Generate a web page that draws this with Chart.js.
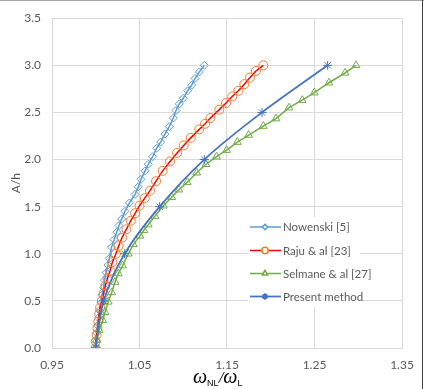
<!DOCTYPE html>
<html>
<head>
<meta charset="utf-8">
<script src="https://cdn.jsdelivr.net/npm/chart.js@4/dist/chart.umd.min.js"></script>
<style>
  html, body { margin: 0; padding: 0; background: #fff; }
  #wrap { width: 424px; height: 389px; position: relative; }
</style>
</head>
<body>
<div id="wrap"><canvas id="chart" width="424" height="389"></canvas></div>
<script>
// values
const xTicks = [0.95, 1.05, 1.15, 1.25, 1.35]

const nowenskiA = [0, 0.08, 0.16, 0.24, 0.32, 0.40, 0.48, 0.56, 0.64, 0.72, 0.80, 0.88, 0.95, 1.07, 1.15, 1.23, 1.30, 1.37, 1.45, 1.54, 1.63, 1.71, 1.79, 1.88, 1.95, 2.03, 2.12, 2.185, 2.27, 2.35, 2.44, 2.52, 2.59, 2.65, 2.73, 2.79, 2.86, 2.93, 3.00]
const nowenskiW = [1.000, 1.000, 1.001, 1.002, 1.003, 1.004, 1.006, 1.007, 1.009, 1.010, 1.012, 1.014, 1.0155, 1.018, 1.021, 1.024, 1.0266, 1.0297, 1.0334, 1.0385, 1.0449, 1.0486, 1.0517, 1.0563, 1.060, 1.065, 1.0696, 1.0742, 1.079, 1.084, 1.0887, 1.0917, 1.0955, 1.100, 1.105, 1.1097, 1.1134, 1.1184, 1.124]

const rajuA = [0, 0.07, 0.14, 0.21, 0.28, 0.36, 0.43, 0.50, 0.58, 0.66, 0.74, 0.82, 0.91, 1.00, 1.08, 1.17, 1.26, 1.35, 1.43, 1.51, 1.59, 1.67, 1.77, 1.88, 1.98, 2.07, 2.15, 2.23, 2.32, 2.38, 2.44, 2.53, 2.60, 2.67, 2.73, 2.80, 2.87, 2.94, 3.00]
const rajuW = [1.000, 1.000, 1.001, 1.002, 1.003, 1.004, 1.005, 1.007, 1.009, 1.011, 1.0135, 1.0163, 1.019, 1.023, 1.026, 1.030, 1.035, 1.040, 1.045, 1.050, 1.056, 1.062, 1.0689, 1.0765, 1.0849, 1.093, 1.1005, 1.1085, 1.1183, 1.125, 1.131, 1.1412, 1.1489, 1.156, 1.163, 1.1698, 1.1763, 1.1831, 1.1915]

const selmaneA = [0, 0.084, 0.19, 0.295, 0.38, 0.49, 0.59, 0.70, 0.79, 0.875, 1.00, 1.10, 1.19, 1.25, 1.31, 1.40, 1.51, 1.60, 1.68, 1.76, 1.86, 1.95, 2.03, 2.10, 2.185, 2.26, 2.355, 2.435, 2.55, 2.63, 2.71, 2.815, 2.92, 3.00]
const selmaneW = [1.000, 1.001, 1.004, 1.008, 1.0106, 1.0143, 1.0182, 1.022, 1.0258, 1.0307, 1.0372, 1.043, 1.0506, 1.055, 1.060, 1.0677, 1.0772, 1.0868, 1.0951, 1.1046, 1.1154, 1.126, 1.138, 1.1496, 1.1618, 1.1747, 1.1915, 1.206, 1.2209, 1.236, 1.2498, 1.2666, 1.2849, 1.2974]

const presentA = [0, 0.5, 1.0, 1.5, 2.0, 2.5, 3.0]
const presentW = [1.000, 1.009, 1.033, 1.073, 1.124, 1.190, 1.265]

const toPoints = (ws, as) => ws.map((w, i) => ({ x: w, y: as[i] }))

const textColor = '#595959'
const gridColor = '#D9D9D9'
const tickFont = { family: 'Lato', size: 12 }

// legend drawn inside the plot, Excel style
const insideLegend = {
  id: 'insideLegend',
  afterDatasetsDraw(chart) {
    const ctx = chart.ctx
    ctx.save()
    ctx.fillStyle = '#fff'
    ctx.fillRect(248, 217, 112, 90)
    const rows = [227, 250.5, 273.5, 296.5]
    chart.data.datasets.forEach((ds, i) => {
      const y = rows[i]
      ctx.strokeStyle = ds.borderColor
      ctx.lineWidth = ds.borderWidth
      ctx.beginPath()
      ctx.moveTo(250, y)
      ctx.lineTo(281, y)
      ctx.stroke()
      ctx.strokeStyle = ds.pointBorderColor
      ctx.fillStyle = '#fff'
      Chart.helpers.drawPoint(ctx, {
        pointStyle: ds.pointStyle,
        radius: ds.pointRadius * 0.7,
        borderWidth: ds.pointBorderWidth
      }, 265, y)
      ctx.fillStyle = textColor
      ctx.font = '11.5px Lato'
      ctx.textAlign = 'left'
      ctx.textBaseline = 'middle'
      ctx.fillText(ds.label, 283, y + 0.5)
    })
    ctx.restore()
  }
}

// x axis title with subscripts, plus the outer frame
const xTitle = {
  id: 'xTitle',
  afterDraw(chart) {
    const ctx = chart.ctx
    ctx.save()
    ctx.fillStyle = '#000'
    ctx.textBaseline = 'alphabetic'
    ctx.textAlign = 'left'
    let x = 193
    const base = 383
    const part = (txt, font, dy) => {
      ctx.font = font
      ctx.fillText(txt, x, base + dy)
      x += ctx.measureText(txt).width
    }
    part('\u03C9', 'italic 20px "Liberation Serif"', 0)
    part('NL', '9px "Liberation Sans"', 3)
    part('/', 'italic 17px "Liberation Serif"', 0)
    part('\u03C9', 'italic 20px "Liberation Serif"', 0)
    part('L', '9px "Liberation Sans"', 3)

    ctx.strokeStyle = '#A6A6A6'
    ctx.lineWidth = 1
    ctx.beginPath()
    ctx.moveTo(0, 0.5)
    ctx.lineTo(424, 0.5)
    ctx.stroke()
    ctx.strokeStyle = '#404040'
    ctx.beginPath()
    ctx.moveTo(422.5, 0)
    ctx.lineTo(422.5, 389)
    ctx.stroke()
    ctx.restore()
  }
}

const ctx = document.getElementById('chart').getContext('2d')
new Chart(ctx, {
  type: 'scatter',
  data: {
    datasets: [
      {
        label: 'Nowenski [5]',
        data: toPoints(nowenskiW, nowenskiA),
        showLine: true,
        borderColor: '#5B9BD5',
        borderWidth: 1.5,
        pointStyle: 'rectRot',
        pointRadius: 4,
        pointBorderWidth: 1,
        pointBorderColor: '#5B9BD5',
        pointBackgroundColor: 'rgba(255,255,255,0)',
        order: 3
      },
      {
        label: 'Raju & al [23]',
        data: toPoints(rajuW, rajuA),
        showLine: true,
        borderColor: '#FF0000',
        borderWidth: 1.5,
        pointStyle: 'circle',
        pointRadius: 4.5,
        pointBorderWidth: 1,
        pointBorderColor: '#ED7D31',
        pointBackgroundColor: 'rgba(255,255,255,0)',
        order: 2
      },
      {
        label: 'Selmane & al [27]',
        data: toPoints(selmaneW, selmaneA),
        showLine: true,
        borderColor: '#70AD47',
        borderWidth: 1.5,
        pointStyle: 'triangle',
        pointRadius: 4.5,
        pointBorderWidth: 1,
        pointBorderColor: '#70AD47',
        pointBackgroundColor: 'rgba(255,255,255,0)',
        order: 1
      },
      {
        label: 'Present method',
        data: toPoints(presentW, presentA),
        showLine: true,
        tension: 0.35,
        borderColor: '#4472C4',
        borderWidth: 1.75,
        pointStyle: 'star',
        pointRadius: 4.5,
        pointBorderWidth: 1,
        pointBorderColor: '#4472C4',
        pointBackgroundColor: '#4472C4',
        order: 0
      }
    ]
  },
  options: {
    responsive: false,
    animation: false,
    layout: { padding: { top: 16, right: 22, left: 0, bottom: 0 } },
    plugins: {
      legend: { display: false },
      tooltip: { enabled: false }
    },
    scales: {
      x: {
        type: 'linear',
        min: 0.95,
        max: 1.35,
        afterBuildTicks: (scale) => { scale.ticks = xTicks.map(v => ({ value: v })) },
        afterFit: (scale) => { scale.height = 41 },
        grid: { color: gridColor, drawTicks: false },
        border: { color: gridColor },
        ticks: {
          color: textColor,
          font: tickFont,
          padding: 10,
          maxRotation: 0,
          callback: (v) => v.toFixed(2)
        }
      },
      y: {
        min: 0,
        max: 3.5,
        afterFit: (scale) => { scale.width = 52 },
        grid: { color: gridColor, drawTicks: false },
        border: { color: gridColor },
        ticks: {
          stepSize: 0.5,
          color: textColor,
          font: tickFont,
          padding: 11,
          callback: (v) => v.toFixed(1)
        },
        title: {
          display: true,
          text: 'A/h',
          color: textColor,
          font: { family: 'Lato', size: 12 },
          padding: { top: 9, bottom: 0 }
        }
      }
    }
  },
  plugins: [insideLegend, xTitle]
})
</script>
</body>
</html>
